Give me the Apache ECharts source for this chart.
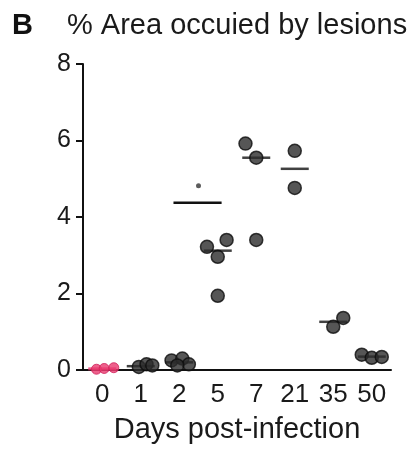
<!DOCTYPE html>
<html>
<head>
<meta charset="utf-8">
<script src="https://cdn.jsdelivr.net/npm/echarts@6/dist/echarts.min.js"></script>
<style>html,body{margin:0;padding:0;background:#fff;}#c{width:413px;height:450px;}</style>
</head>
<body>
<div id="c"></div>
<script>
const categories = ['0', '1', '2', '5', '7', '21', '35', '50'];
const dayValues = [
  [0.02, 0.04, 0.06],
  [0.08, 0.15, 0.12],
  [0.25, 0.30, 0.15, 0.12],
  [3.22, 2.96, 3.40, 1.94],
  [5.92, 5.55, 3.40],
  [5.73, 4.76],
  [1.13, 1.36],
  [0.40, 0.32, 0.34]
];
const dayJitter = [
  [-0.15, 0.05, 0.3],
  [-0.05, 0.15, 0.3],
  [-0.2, 0.08, 0.25, -0.05],
  [-0.28, 0, 0.23, 0],
  [-0.28, 0, 0],
  [0, 0],
  [0, 0.26],
  [-0.26, 0, 0.26]
];
const means = [0.03, 0.10, 0.20, 3.12, 5.55, 5.26, 1.26, 0.35];
const yTicks = [0, 2, 4, 6, 8];
const bracketFrom = '2', bracketTo = '5', bracketValue = 4.37, asteriskValue = 4.82;

const chart = echarts.init(document.getElementById('c'));
const FONT = 'Liberation Sans, Arial, sans-serif';
const pink = '#e8386e';

const darkPts = [], pinkPts = [];
dayValues.forEach((vals, i) => {
  vals.forEach((v, j) => {
    const p = [i + 0.5 + dayJitter[i][j], v];
    (i === 0 ? pinkPts : darkPts).push(p);
  });
});
const meanDark = [], meanPink = [];
means.forEach((m, i) => { (i === 0 ? meanPink : meanDark).push([i + 0.5, m]); });
const bi = categories.indexOf(bracketFrom), bj = categories.indexOf(bracketTo);
const bracketData = [[bi + 0.5 - 0.15, bracketValue], [bj + 0.5 + 0.1, bracketValue]];
const asteriskData = [[(bi + bj) / 2 + 0.5, asteriskValue]];

chart.setOption({
  animation: false,
  backgroundColor: '#fff',
  title: [
    { text: 'B', left: 12, top: 11, padding: 0, textStyle: { fontFamily: FONT, fontSize: 29, fontWeight: 'bold', color: '#111' } },
    { text: '% Area occuied by lesions', left: 67, top: 11, padding: 0, textStyle: { fontFamily: FONT, fontSize: 29, fontWeight: 'normal', color: '#1a1a1a' } }
  ],
  grid: { left: 83, right: 22, top: 64, bottom: 80, containLabel: false },
  xAxis: [
    {
      type: 'category', data: categories, boundaryGap: true,
      name: 'Days post-infection', nameLocation: 'middle', nameGap: 45,
      nameTextStyle: { fontFamily: FONT, fontSize: 29, color: '#1a1a1a' },
      axisLine: { lineStyle: { color: '#111', width: 2 } },
      axisTick: { alignWithLabel: true, length: 7, lineStyle: { color: '#111', width: 2 } },
      axisLabel: { fontFamily: FONT, fontSize: 26, color: '#1a1a1a', margin: 12, interval: 0 },
      splitLine: { show: false }
    },
    { type: 'value', min: 0, max: 8, show: false }
  ],
  yAxis: {
    type: 'value', min: 0, max: 8, interval: 2,
    axisLine: { show: true, lineStyle: { color: '#111', width: 2 } },
    axisTick: { show: true, length: 7, lineStyle: { color: '#111', width: 2 } },
    axisLabel: { fontFamily: FONT, fontSize: 25, color: '#1a1a1a', margin: 12,
      formatter: v => yTicks.indexOf(v) >= 0 ? String(v) : '' },
    splitLine: { show: false }
  },
  series: [
    { type: 'scatter', xAxisIndex: 1, data: meanDark, symbol: 'rect', symbolSize: [28, 2.5],
      itemStyle: { color: '#111' }, z: 3 },
    { type: 'scatter', xAxisIndex: 1, data: meanPink, symbol: 'rect', symbolSize: [28, 3],
      itemStyle: { color: pink }, z: 3 },
    { type: 'scatter', xAxisIndex: 1, data: darkPts, symbol: 'circle', symbolSize: 13,
      itemStyle: { color: '#2c2c2c', borderColor: '#0d0d0d', borderWidth: 1.5 }, z: 4 },
    { type: 'scatter', xAxisIndex: 1, data: pinkPts, symbol: 'circle', symbolSize: 10,
      itemStyle: { color: pink, borderColor: '#d0205a', borderWidth: 1 }, z: 4 },
    { type: 'line', xAxisIndex: 1, data: bracketData, symbol: 'none',
      lineStyle: { color: '#111', width: 2.5 }, z: 3 },
    { type: 'scatter', xAxisIndex: 1, data: asteriskData, symbol: 'circle', symbolSize: 5,
      itemStyle: { color: '#333' }, z: 3 }
  ]
});
</script>
</body>
</html>
